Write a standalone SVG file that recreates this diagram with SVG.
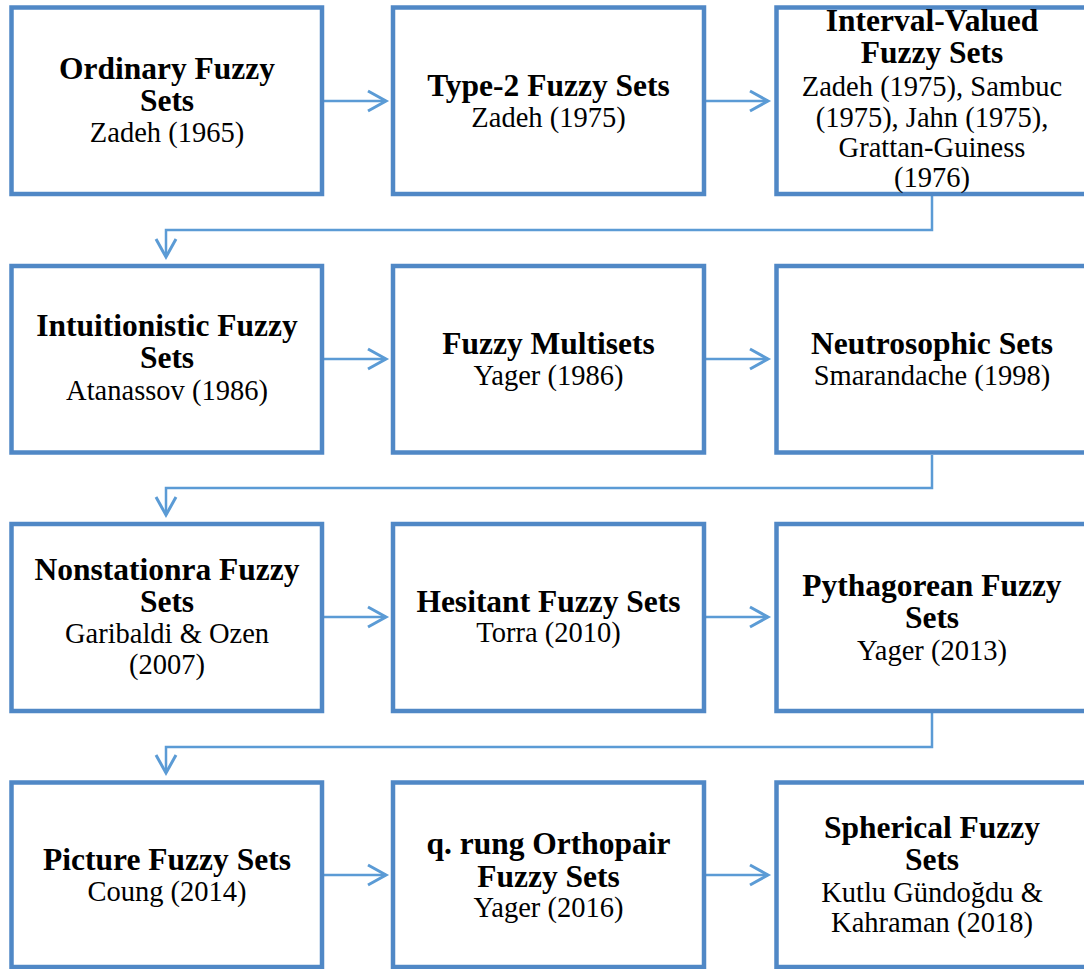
<svg xmlns="http://www.w3.org/2000/svg" width="1084" height="969" viewBox="0 0 1084 969">
<style>
.box{fill:#ffffff;stroke:#5088C6;stroke-width:4.5}
.t{font-family:"Liberation Serif","Times New Roman",serif;font-weight:bold;font-size:31.5px;fill:#000;text-anchor:middle}
.s{font-family:"Liberation Serif","Times New Roman",serif;font-size:28.5px;fill:#000;text-anchor:middle}
.c{fill:none;stroke:#5B9BD5;stroke-width:2.5;marker-end:url(#ah)}
</style>
<defs>
<marker id="ah" markerUnits="userSpaceOnUse" markerWidth="26" markerHeight="26" viewBox="0 0 26 26" refX="22" refY="12" orient="auto">
<path d="M4,2 L22,12 L4,22" fill="none" stroke="#5B9BD5" stroke-width="3"/>
</marker>
</defs>
<rect width="1084" height="969" fill="#ffffff"/>
<g id="connectors">
<path class="c" d="M324,101 H386"/>
<path class="c" d="M706,101 H768"/>
<path class="c" d="M932,196 V230 H166 V257"/>
<path class="c" d="M324,359 H386"/>
<path class="c" d="M706,359 H768"/>
<path class="c" d="M932,455 V488 H166 V515"/>
<path class="c" d="M324,617 H386"/>
<path class="c" d="M706,617 H768"/>
<path class="c" d="M932,713 V747 H166 V773"/>
<path class="c" d="M324,875 H386"/>
<path class="c" d="M706,875 H768"/>
</g>
<g id="n1"><rect class="box" x="11.5" y="7.5" width="310.5" height="186.5"/>
<text class="t" x="167" y="79">Ordinary Fuzzy</text><text class="t" x="167" y="111">Sets</text><text class="s" x="167" y="142">Zadeh (1965)</text></g>
<g id="n2"><rect class="box" x="393" y="7.5" width="311" height="186.5"/>
<text class="t" x="548.5" y="96">Type-2 Fuzzy Sets</text><text class="s" x="548.5" y="127">Zadeh (1975)</text></g>
<g id="n3"><rect class="box" x="776.5" y="7.5" width="311.5" height="186.5"/>
<text class="t" x="932" y="31">Interval-Valued</text><text class="t" x="932" y="63">Fuzzy Sets</text>
<text class="s" x="932" y="96">Zadeh (1975), Sambuc</text><text class="s" x="932" y="127">(1975), Jahn (1975),</text>
<text class="s" x="932" y="157">Grattan-Guiness</text><text class="s" x="932" y="187">(1976)</text></g>
<g id="n4"><rect class="box" x="11.5" y="266" width="310.5" height="186.5"/>
<text class="t" x="167" y="336">Intuitionistic Fuzzy</text><text class="t" x="167" y="368">Sets</text><text class="s" x="167" y="400">Atanassov (1986)</text></g>
<g id="n5"><rect class="box" x="393" y="266" width="311" height="186.5"/>
<text class="t" x="548.5" y="354">Fuzzy Multisets</text><text class="s" x="548.5" y="385">Yager (1986)</text></g>
<g id="n6"><rect class="box" x="776.5" y="266" width="311.5" height="186.5"/>
<text class="t" x="932" y="354">Neutrosophic Sets</text><text class="s" x="932" y="385">Smarandache (1998)</text></g>
<g id="n7"><rect class="box" x="11.5" y="524" width="310.5" height="187"/>
<text class="t" x="167" y="580">Nonstationra Fuzzy</text><text class="t" x="167" y="612">Sets</text>
<text class="s" x="167" y="643">Garibaldi &amp; Ozen</text><text class="s" x="167" y="674">(2007)</text></g>
<g id="n8"><rect class="box" x="393" y="524" width="311" height="187"/>
<text class="t" x="548.5" y="612">Hesitant Fuzzy Sets</text><text class="s" x="548.5" y="642">Torra (2010)</text></g>
<g id="n9"><rect class="box" x="776.5" y="524" width="311.5" height="187"/>
<text class="t" x="932" y="596">Pythagorean Fuzzy</text><text class="t" x="932" y="628">Sets</text><text class="s" x="932" y="660">Yager (2013)</text></g>
<g id="n10"><rect class="box" x="11.5" y="782.5" width="310.5" height="184.5"/>
<text class="t" x="167" y="870">Picture Fuzzy Sets</text><text class="s" x="167" y="901">Coung (2014)</text></g>
<g id="n11"><rect class="box" x="393" y="782.5" width="311" height="184.5"/>
<text class="t" x="548.5" y="854">q. rung Orthopair</text><text class="t" x="548.5" y="887">Fuzzy Sets</text><text class="s" x="548.5" y="917">Yager (2016)</text></g>
<g id="n12"><rect class="box" x="776.5" y="782.5" width="311.5" height="184.5"/>
<text class="t" x="932" y="838">Spherical Fuzzy</text><text class="t" x="932" y="870">Sets</text>
<text class="s" x="932" y="902">Kutlu Gündoğdu &amp;</text><text class="s" x="932" y="932">Kahraman (2018)</text></g>
</svg>
